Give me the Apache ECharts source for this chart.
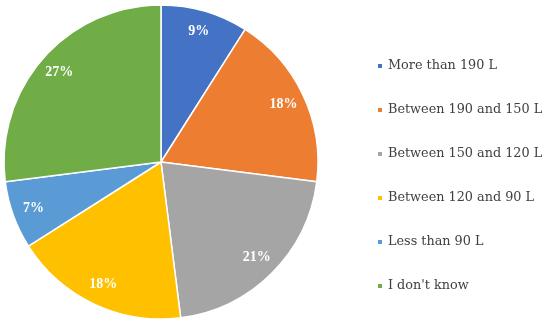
<!DOCTYPE html>
<html>
<head>
<meta charset="UTF-8">
<title>pie</title>
<script src="https://cdn.jsdelivr.net/npm/echarts@6/dist/echarts.min.js"></script>
<style>
    html, body { margin: 0; padding: 0; background: #fff; }
    #chart { width: 550px; height: 323px; }
</style>
</head>
<body>
<div id="chart"></div>
<script>
// data
var categories = ['More than 190 L', 'Between 190 and 150 L', 'Between 150 and 120 L', 'Between 120 and 90 L', 'Less than 90 L', "I don't know"];
var shares = [9, 18, 21, 18, 7, 27];
var colors = ['#4472C4', '#ED7D31', '#A5A5A5', '#FFC000', '#5B9BD5', '#70AD47'];

var pieData = categories.map(function (name, i) {
    return { name: name, value: shares[i] };
});

var myChart = echarts.init(document.getElementById('chart'));
var option = {
    color: colors,
    animation: false,
    legend: {
        orient: 'vertical',
        left: 371,
        top: 54,
        itemWidth: 6,
        itemHeight: 6,
        itemGap: 30,
        icon: 'rect',
        data: categories,
        textStyle: {
            fontFamily: 'DejaVu Serif',
            fontSize: 12.8,
            lineHeight: 14,
            color: '#404040'
        }
    },
    series: [
        {
            type: 'pie',
            center: [161, 162],
            radius: 157,
            startAngle: 90,
            clockwise: true,
            data: pieData,
            itemStyle: { borderColor: '#fff', borderWidth: 1.5 },
            label: { show: false },
            labelLine: { show: false }
        },
        {
            // label ring only, so the percentages sit near the rim
            type: 'pie',
            center: [161, 162],
            radius: [110, 155],
            startAngle: 90,
            clockwise: true,
            silent: true,
            data: pieData,
            itemStyle: { color: 'rgba(0,0,0,0)' },
            label: {
                show: true,
                position: 'inside',
                formatter: '{c}%',
                color: '#fff',
                fontFamily: 'Liberation Serif',
                fontWeight: 'bold',
                fontSize: 14
            },
            labelLine: { show: false }
        }
    ]
};
myChart.setOption(option);
</script>
</body>
</html>
